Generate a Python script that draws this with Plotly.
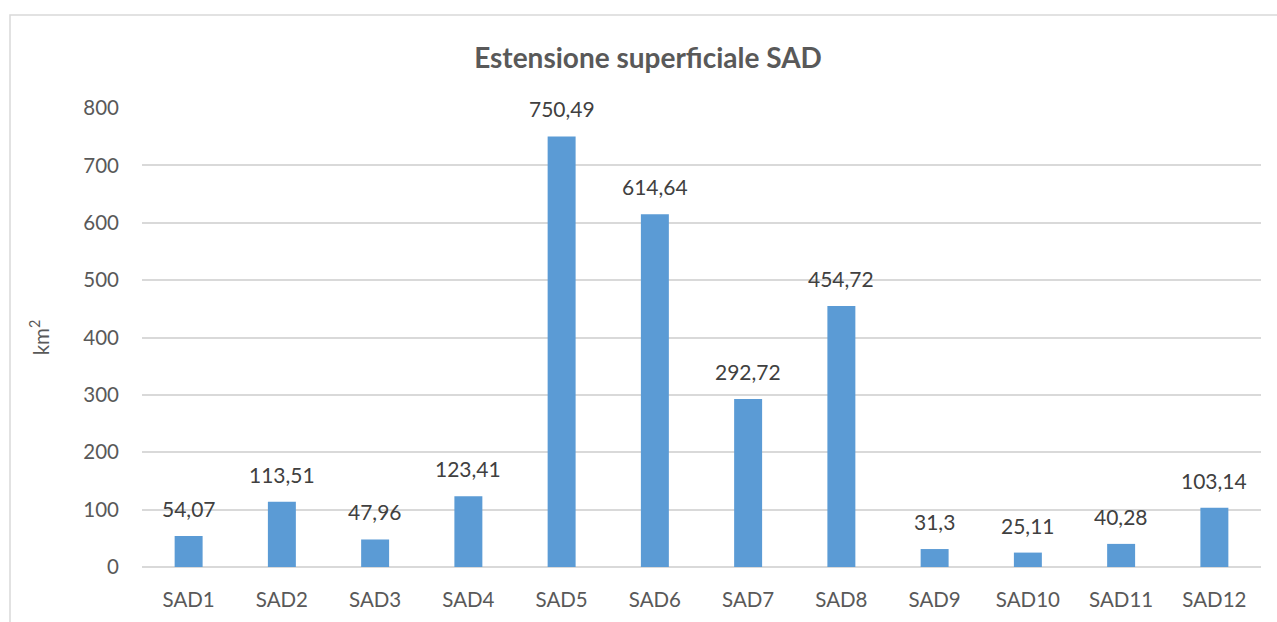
import plotly.graph_objects as go

categories = ["SAD1", "SAD2", "SAD3", "SAD4", "SAD5", "SAD6",
              "SAD7", "SAD8", "SAD9", "SAD10", "SAD11", "SAD12"]
area_km2 = [54.07, 113.51, 47.96, 123.41, 750.49, 614.64,
            292.72, 454.72, 31.3, 25.11, 40.28, 103.14]
y_ticks = [0, 100, 200, 300, 400, 500, 600, 700, 800]

labels = [str(v).replace(".", ",") for v in area_km2]

FONT = "Lato, 'Open Sans', sans-serif"
GREY = "#595959"

fig = go.Figure(go.Bar(
    x=categories,
    y=area_km2,
    marker=dict(color="#5B9BD5", line=dict(width=0)),
    hoverinfo="skip",
))

# data labels, lifted a bit above the bars like Excel does
for cat, val, lab in zip(categories, area_km2, labels):
    fig.add_annotation(
        x=cat, y=val, text=lab,
        showarrow=False, yanchor="bottom", yshift=13,
        font=dict(family=FONT, size=21, color="#404040"),
    )

fig.update_layout(
    width=1277, height=622,
    margin=dict(l=142, r=16, t=108, b=55),
    paper_bgcolor="white",
    plot_bgcolor="white",
    bargap=0.7,
    showlegend=False,
    title=dict(
        text="<b>Estensione superficiale SAD</b>",
        x=648 / 1277, xref="container", xanchor="center",
        y=1 - 58 / 622, yref="container", yanchor="middle",
        font=dict(family=FONT, size=28, color=GREY),
    ),
    font=dict(family=FONT, color=GREY),
)

fig.update_xaxes(
    showgrid=False, showline=False, zeroline=False,
    tickfont=dict(family=FONT, size=20.5, color=GREY),
    ticklabelstandoff=18,
)
fig.update_yaxes(
    range=[0, 800],
    tickvals=y_ticks,
    showgrid=True, gridcolor="#D9D9D9", gridwidth=1.5,
    zeroline=True, zerolinecolor="#D9D9D9", zerolinewidth=1.5,
    showline=False,
    tickfont=dict(family=FONT, size=20.5, color=GREY),
    ticklabelstandoff=22,
    title=dict(text="km<sup>2</sup>", font=dict(family=FONT, size=20.5, color=GREY), standoff=28),
)

# chart frame (Excel-style border, cropped at right/bottom)
fig.add_shape(
    type="rect", xref="paper", yref="paper",
    x0=(10 - 142) / 1119, x1=1.1,
    y0=-0.3, y1=(567 - 15) / 459,
    line=dict(color="#D9D9D9", width=1.5),
    fillcolor="rgba(0,0,0,0)", layer="below",
)

fig.write_html("out.html", config={"displayModeBar": False},
               post_script="document.body.style.margin='0';")
